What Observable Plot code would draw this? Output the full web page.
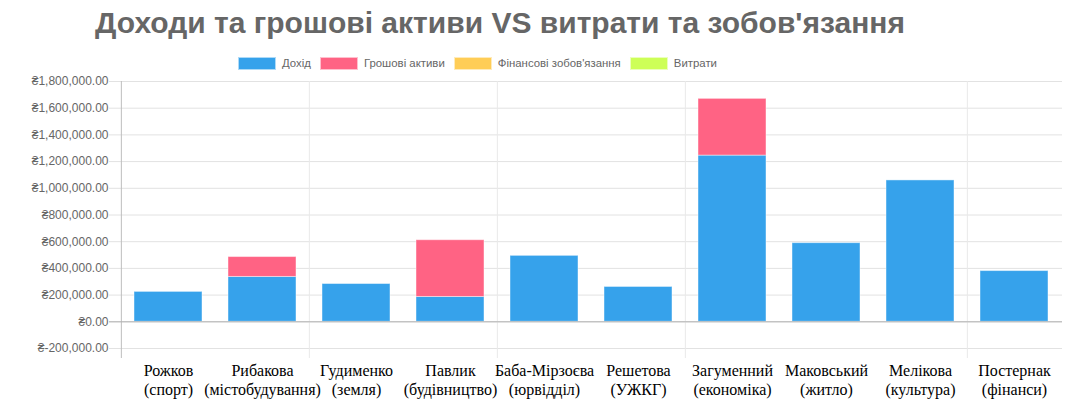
<!DOCTYPE html>
<html><head><meta charset="utf-8">
<script src="https://cdn.jsdelivr.net/npm/d3@7"></script>
<script src="https://cdn.jsdelivr.net/npm/@observablehq/plot@0.6"></script>
<style>
body{margin:0;background:#fff;}
#wrap{position:relative;width:1070px;height:413px;overflow:hidden;}
#chart{position:absolute;left:0;top:0;}
#title{position:absolute;left:0;width:1000px;top:8px;text-align:center;font:bold 30px/30px "Liberation Sans",Arial,sans-serif;color:#666;white-space:nowrap;}
#legend{position:absolute;left:238px;top:57px;display:flex;font:11.4px/13px "Liberation Sans",Arial,sans-serif;color:#666;white-space:nowrap;}
.item{display:flex;align-items:center;margin-right:9px;}
.sw{width:36px;height:11px;border:1px solid rgba(255,255,255,0.6);margin-right:6px;}
</style>
</head><body>
<div id="wrap">
  <div id="chart"></div>
  <div id="title"></div>
  <div id="legend"></div>
</div>
<script>
const titleText = "Доходи та грошові активи VS витрати та зобов'язання";
const names = ["Рожков","Рибакова","Гудименко","Павлик","Баба-Мірзоєва","Решетова","Загуменний","Маковський","Мелікова","Постернак"];
const depts = ["(спорт)","(містобудування)","(земля)","(будівництво)","(юрвідділ)","(УЖКГ)","(економіка)","(житло)","(культура)","(фінанси)"];
const seriesNames = ["Дохід","Грошові активи","Фінансові зобов'язання","Витрати"];
const seriesColors = ["#36a2eb","#ff6384","#ffcd56","#cdff57"];
const income      = [224000, 336000, 283000, 186000, 494000, 261000, 1245000, 589000, 1059000, 380000];
const cash        = [0, 149000, 0, 425000, 0, 0, 425000, 0, 0, 0];
const liabilities = [0, 0, 0, 0, 0, 0, 0, 0, 0, 0];
const expenses    = [0, 0, 0, 0, 0, 0, 0, 0, 0, 0];
const yTicks = [-200000, 0, 200000, 400000, 600000, 800000, 1000000, 1200000, 1400000, 1600000, 1800000];
const gridAfter = ["Гудименко","Баба-Мірзоєва","Загуменний","Постернак"]; // vertical grid lines at left edge of these bands

const seriesValues = [income, cash, liabilities, expenses];
const data = [];
names.forEach((n, i) => seriesNames.forEach((s, k) => data.push({name: n, series: s, value: seriesValues[k][i]})));

const W = 1070, H = 413, ML = 119, MR = 8, MT = 81, MB = 65;
const step = (W - ML - MR) / names.length;
const locale = d3.formatLocale({decimal: ".", thousands: ",", grouping: [3], currency: ["₴", ""], minus: "-"});
const fmt = d => "₴" + locale.format(",.2f")(d);

document.getElementById("title").textContent = titleText;
const leg = document.getElementById("legend");
seriesNames.forEach((s, k) => {
  const it = document.createElement("div"); it.className = "item";
  const sw = document.createElement("div"); sw.className = "sw"; sw.style.background = seriesColors[k];
  const tx = document.createElement("span"); tx.textContent = s;
  it.appendChild(sw); it.appendChild(tx); leg.appendChild(it);
});

const chart = Plot.plot({
  width: W, height: H,
  marginTop: MT, marginBottom: MB, marginLeft: ML, marginRight: MR,
  style: {fontFamily: "'Liberation Sans', Arial, sans-serif", background: "#fff"},
  x: {domain: names, paddingInner: 0.28, paddingOuter: 0.14, axis: null},
  y: {domain: [-200000, 1800000], axis: null},
  color: {domain: seriesNames, range: seriesColors},
  marks: [
    Plot.ruleY(yTicks, {y: d => d, stroke: "#e2e2e2", insetLeft: -10}),
    Plot.ruleX(gridAfter, {x: d => d, dx: -step / 2, stroke: "#e9e9e9", insetBottom: -10}),
    Plot.ruleX([names[0]], {x: d => d, dx: -step / 2, stroke: "#bdbdbd", insetBottom: -10}),
    Plot.barY(data, {x: "name", y: "value", fill: "series", stroke: "#fff", strokeOpacity: 0.45, strokeWidth: 1}),
    Plot.ruleY([0], {stroke: "#b3b3b3", insetLeft: -10}),
    Plot.axisY({ticks: yTicks, tickFormat: fmt, tickSize: 0, tickPadding: 11, fontSize: 12, fill: "#666", label: null}),
    Plot.text(names, {x: d => d, text: (d, i) => d + "\n" + depts[i], frameAnchor: "bottom", lineAnchor: "top", dy: 13.3,
      fontFamily: "'Liberation Serif', 'Times New Roman', serif", fontSize: 16, lineHeight: 1.22, fill: "#000"})
  ]
});
document.getElementById("chart").appendChild(chart);
</script>
</body></html>
